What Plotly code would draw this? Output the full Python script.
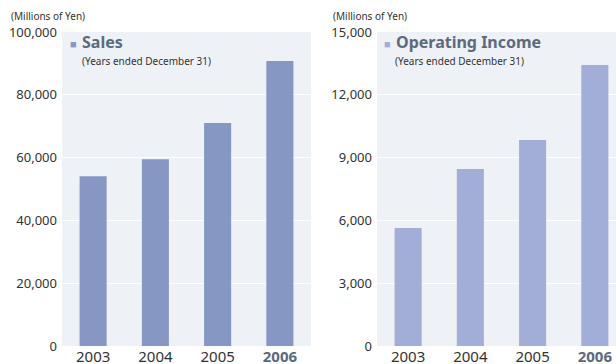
import plotly.graph_objects as go

# Figures in millions of yen, fiscal years ended December 31
years = ["2003", "2004", "2005", "2006"]
sales = [54100, 59500, 71000, 90800]
operating_income = [5640, 8450, 9840, 13420]

sales_ticks = [0, 20000, 40000, 60000, 80000, 100000]
income_ticks = [0, 3000, 6000, 9000, 12000, 15000]

SALES_COLOR = "#8797c4"
INCOME_COLOR = "#a3aed8"
TITLE_COLOR = "#5b6a7d"
TEXT_COLOR = "#333333"
FONT = "Noto Sans, Open Sans, sans-serif"

W, H = 616, 364
TOP, BOTTOM = 32, 346  # plot area in pixels


def px(x):
    return x / W


def py(y):
    return (BOTTOM - y) / (BOTTOM - TOP)


def year_labels(labels):
    out = []
    for i, y in enumerate(labels):
        if i == len(labels) - 1:
            out.append(f"<span style='color:{TITLE_COLOR}'><b>{y}</b></span>")
        else:
            out.append(y)
    return out


fig = go.Figure()
fig.add_trace(go.Bar(x=years, y=sales, marker=dict(color=SALES_COLOR, line_width=0),
                     xaxis="x", yaxis="y", width=0.435, showlegend=False))
fig.add_trace(go.Bar(x=years, y=operating_income, marker=dict(color=INCOME_COLOR, line_width=0),
                     xaxis="x2", yaxis="y2", width=0.435, showlegend=False))

x_common = dict(showline=False, zeroline=False, ticks="", showgrid=False,
                ticklabelstandoff=0, automargin=False,
                tickfont=dict(family=FONT, size=15, color=TEXT_COLOR))
y_common = dict(showline=False, zeroline=False, ticks="", tickformat=",",
                showgrid=True, gridcolor="white", gridwidth=1,
                ticklabelstandoff=4, automargin=False,
                tickfont=dict(family=FONT, size=13, color=TEXT_COLOR))

fig.update_layout(
    width=W, height=H,
    margin=dict(l=0, r=0, t=TOP, b=H - BOTTOM, pad=0, autoexpand=False),
    paper_bgcolor="white",
    plot_bgcolor="#eef1f5",
    font=dict(family=FONT, color=TEXT_COLOR),
    xaxis=dict(domain=[px(62), px(311)], range=[-0.5, 3.5],
               tickvals=years, ticktext=year_labels(years), **x_common),
    xaxis2=dict(domain=[px(377), 1.0], range=[-0.5, 3.34], anchor="y2",
                tickvals=years, ticktext=year_labels(years), **x_common),
    yaxis=dict(range=[0, 100000], tickvals=sales_ticks, **y_common),
    yaxis2=dict(range=[0, 15000], tickvals=income_ticks, anchor="x2", **y_common),
)


def note(x, y, text, size, color=TEXT_COLOR, bold=False):
    fig.add_annotation(x=px(x), y=py(y), xref="paper", yref="paper",
                       xanchor="left", yanchor="middle", showarrow=False,
                       text=f"<b>{text}</b>" if bold else text,
                       font=dict(family=FONT, size=size, color=color))


# Units above each axis
note(9, 16, "(Millions of Yen)", 10)
note(331, 16, "(Millions of Yen)", 10)

# Panel headings with a colour key
note(68, 43, "■", 11, SALES_COLOR)
note(80, 42, "Sales", 16, TITLE_COLOR, bold=True)
note(80, 61, "(Years ended December 31)", 10)

note(382, 43, "■", 11, INCOME_COLOR)
note(394, 42, "Operating Income", 16, TITLE_COLOR, bold=True)
note(393, 61, "(Years ended December 31)", 10)

fig.write_html("out.html")
